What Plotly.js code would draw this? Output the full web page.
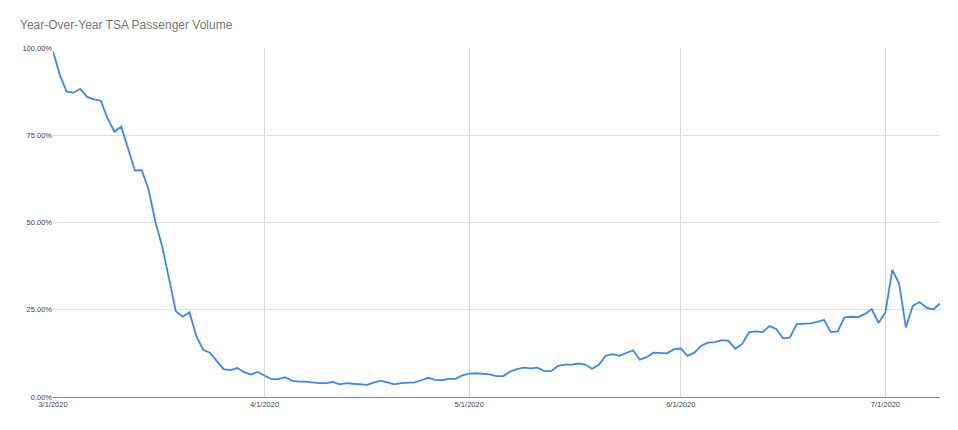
<!DOCTYPE html>
<html>
<head>
<meta charset="utf-8">
<script src="https://cdn.plot.ly/plotly-3.0.1.min.js"></script>
<style>
  html, body { margin: 0; padding: 0; background: #fff; }
  #chart { width: 958px; height: 430px; }
</style>
</head>
<body>
<div id="chart"></div>
<script>
// Year-over-year TSA passenger volume (% of same day last year), daily
var marchValues = [99.0, 92.3, 87.5, 87.2, 88.3, 86.0, 85.3, 84.9, 79.8, 76.0,
                   77.5, 71.3, 64.9, 65.0, 59.5, 50.2, 43.1, 34.0, 24.6, 23.0,
                   24.3, 17.5, 13.5, 12.7, 10.3, 8.0, 7.7, 8.3, 7.1, 6.4, 7.2];
var aprilValues = [6.2, 5.1, 5.1, 5.7, 4.7, 4.4, 4.4, 4.1, 4.0, 4.0,
                   4.3, 3.6, 4.0, 3.8, 3.7, 3.5, 4.1, 4.7, 4.2, 3.6,
                   4.0, 4.2, 4.2, 4.8, 5.5, 4.9, 4.8, 5.2, 5.2, 6.2];
var mayValues   = [6.7, 6.8, 6.7, 6.5, 6.0, 6.0, 7.3, 8.0, 8.4, 8.2,
                   8.4, 7.4, 7.4, 8.9, 9.3, 9.3, 9.6, 9.3, 8.1, 9.2,
                   11.8, 12.3, 11.8, 12.7, 13.4, 10.7, 11.4, 12.7, 12.6, 12.5, 13.7];
var juneValues  = [13.9, 11.8, 12.7, 14.7, 15.6, 15.7, 16.3, 16.1, 13.8, 15.2,
                   18.5, 18.8, 18.6, 20.3, 19.5, 16.8, 17.1, 20.9, 20.9, 21.1,
                   21.5, 22.1, 18.6, 18.8, 22.8, 23.0, 22.9, 23.8, 25.2, 21.2];
var julyValues  = [24.3, 36.4, 32.6, 19.9, 26.1, 27.2, 25.6, 25.1, 26.8];

var months = ['03', '04', '05', '06', '07'];
var monthSeries = [marchValues, aprilValues, mayValues, juneValues, julyValues];

var tickDates  = ['2020-03-01', '2020-04-01', '2020-05-01', '2020-06-01', '2020-07-01'];
var tickLabels = ['3/1/2020', '4/1/2020', '5/1/2020', '6/1/2020', '7/1/2020'];
var yTickValues = [0, 25, 50, 75, 100];
var yTickLabels = ['0.00%', '25.00%', '50.00%', '75.00%', '100.00%'];

var dates = [], values = [];
monthSeries.forEach(function (arr, m) {
  arr.forEach(function (v, i) {
    var d = i + 1;
    dates.push('2020-' + months[m] + '-' + (d < 10 ? '0' + d : d));
    values.push(v);
  });
});

var trace = {
  x: dates,
  y: values,
  type: 'scatter',
  mode: 'lines',
  line: { color: '#4285f4', width: 1.8 },
  hoverinfo: 'x+y'
};

var layout = {
  width: 958,
  height: 430,
  margin: { l: 53, r: 18, t: 48, b: 33 },
  paper_bgcolor: '#ffffff',
  plot_bgcolor: '#ffffff',
  showlegend: false,
  font: { family: 'Liberation Sans, Arial, sans-serif', color: '#444444', size: 7.5 },
  title: {
    text: 'Year-Over-Year TSA Passenger Volume',
    font: { family: 'Liberation Sans, Arial, sans-serif', size: 12, color: '#757575' },
    xref: 'container', yref: 'container',
    x: 20 / 958, xanchor: 'left',
    y: 1 - 25 / 430, yanchor: 'middle'
  },
  xaxis: {
    type: 'date',
    range: ['2020-03-01', '2020-07-09'],
    tickmode: 'array',
    tickvals: tickDates,
    ticktext: tickLabels,
    showgrid: true,
    gridcolor: '#d9d9d9',
    gridwidth: 1,
    showline: true,
    linecolor: '#888888',
    linewidth: 1,
    ticks: '',
    tickfont: { size: 7.5, color: '#444444' },
    zeroline: false,
    fixedrange: true
  },
  yaxis: {
    range: [0, 100],
    tickmode: 'array',
    tickvals: yTickValues,
    ticktext: yTickLabels,
    showgrid: true,
    gridcolor: '#e0e0e0',
    gridwidth: 1,
    zeroline: false,
    showline: false,
    ticks: '',
    tickfont: { size: 7.5, color: '#444444' },
    fixedrange: true
  }
};

Plotly.newPlot('chart', [trace], layout, { displayModeBar: false, staticPlot: true });
</script>
</body>
</html>
